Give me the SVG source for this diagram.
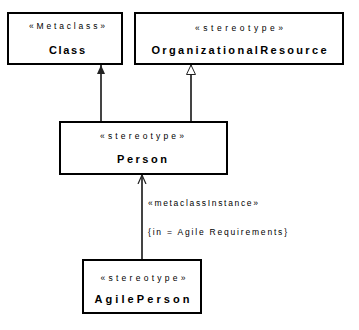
<svg xmlns="http://www.w3.org/2000/svg" width="359" height="330" viewBox="0 0 359 330">
<style>
.box{fill:#fff;stroke:#000;stroke-width:2}
.st{font-family:"Liberation Sans",Arial,sans-serif;font-size:8.5px;fill:#000;text-anchor:middle}
.nm{font-family:"Liberation Sans",Arial,sans-serif;font-size:11px;font-weight:bold;fill:#000;text-anchor:middle}
.lb{font-family:"Liberation Sans",Arial,sans-serif;font-size:8.5px;fill:#000}
.ln{stroke:#444;stroke-width:2;fill:none}
</style>
<defs>
<marker id="filled" markerWidth="10" markerHeight="10" refX="9" refY="5" orient="auto" markerUnits="userSpaceOnUse">
<path d="M0,1 L9,5 L0,9 Z" fill="#222"/>
</marker>
<marker id="hollow" markerWidth="12" markerHeight="12" refX="10" refY="5" orient="auto" markerUnits="userSpaceOnUse">
<path d="M0.5,0.5 L10,5 L0.5,9.5 Z" fill="#fff" stroke="#222" stroke-width="1"/>
</marker>
<marker id="open" markerWidth="10" markerHeight="10" refX="9" refY="5" orient="auto" markerUnits="userSpaceOnUse">
<path d="M0,1 L9,5 L0,9" fill="none" stroke="#222" stroke-width="1.2"/>
</marker>
</defs>
<g id="connectors">
<line class="ln" x1="101" y1="122" x2="101" y2="65" marker-end="url(#filled)"/>
<line class="ln" x1="191" y1="122" x2="191" y2="65" marker-end="url(#hollow)"/>
<line class="ln" x1="142" y1="260" x2="142" y2="175" marker-end="url(#open)"/>
<text class="lb" x="148" y="206" textLength="110" lengthAdjust="spacing">«metaclassInstance»</text>
<text class="lb" x="148" y="235" textLength="139" lengthAdjust="spacing">{in = Agile Requirements}</text>
</g>
<g id="class">
<rect class="box" x="8" y="13" width="114" height="51"/>
<text class="st" x="67" y="29" textLength="76" lengthAdjust="spacing">«Metaclass»</text>
<text class="nm" x="67" y="54" textLength="36" lengthAdjust="spacing">Class</text>
</g>
<g id="organizationalResource">
<rect class="box" x="135" y="13" width="208" height="51"/>
<text class="st" x="239" y="31" textLength="88" lengthAdjust="spacing">«stereotype»</text>
<text class="nm" x="239" y="54" textLength="175" lengthAdjust="spacing">OrganizationalResource</text>
</g>
<g id="person">
<rect class="box" x="60" y="122" width="167" height="52"/>
<text class="st" x="142" y="139" textLength="84" lengthAdjust="spacing">«stereotype»</text>
<text class="nm" x="142" y="163" textLength="50" lengthAdjust="spacing">Person</text>
</g>
<g id="agilePerson">
<rect class="box" x="83" y="260" width="118" height="53"/>
<text class="st" x="143" y="281" textLength="85" lengthAdjust="spacing">«stereotype»</text>
<text class="nm" x="142" y="303" textLength="95" lengthAdjust="spacing">AgilePerson</text>
</g>
</svg>
